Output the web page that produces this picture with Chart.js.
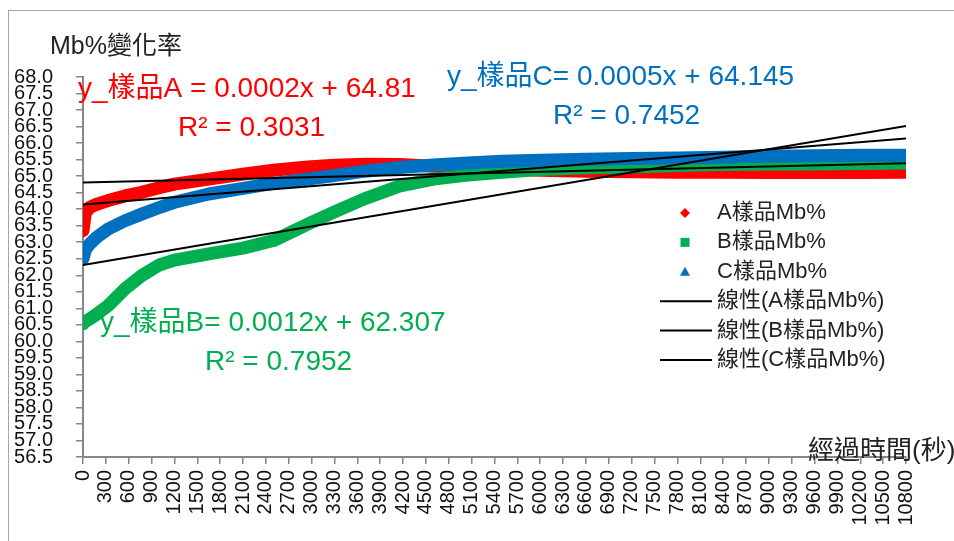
<!DOCTYPE html>
<html>
<head>
<meta charset="utf-8">
<script src="https://cdn.jsdelivr.net/npm/chart.js@4.4.0/dist/chart.umd.min.js"></script>
<style>
  body { margin: 0; background: #fff; }
</style>
</head>
<body>
<canvas id="mbChart" width="954" height="541"></canvas>
<script>
// elapsed seconds and Mb% readings
const seconds = [0, 30, 90, 180, 330, 550, 770, 1000, 1200, 1650, 2100, 2500, 2950, 3300, 3700, 4150, 4600, 5050, 5500, 6000, 6600, 7200, 7800, 8400, 9000, 9600, 10200, 10800];
const sampleA = [63.35, 63.88, 64.06, 64.15, 64.26, 64.40, 64.51, 64.65, 64.76, 64.91, 65.06, 65.18, 65.28, 65.33, 65.36, 65.35, 65.30, 65.25, 65.22, 65.18, 65.15, 65.13, 65.12, 65.12, 65.11, 65.11, 65.11, 65.12];
const sampleB = [60.53, 60.60, 60.68, 60.82, 61.08, 61.59, 61.99, 62.31, 62.46, 62.65, 62.82, 63.05, 63.55, 63.92, 64.32, 64.70, 64.91, 65.03, 65.12, 65.20, 65.25, 65.28, 65.32, 65.35, 65.36, 65.37, 65.38, 65.40];
const sampleC = [62.50, 62.77, 62.95, 63.15, 63.40, 63.65, 63.85, 64.05, 64.21, 64.46, 64.63, 64.78, 64.91, 65.02, 65.15, 65.26, 65.34, 65.40, 65.45, 65.48, 65.51, 65.53, 65.55, 65.57, 65.60, 65.62, 65.63, 65.63];

// linear trend lines, start and end
const trendX = [0, 10800];
const trendA = [64.81, 65.39];
const trendB = [62.307, 66.52];
const trendC = [64.145, 66.14];

const seriesLabels = ['A樣品Mb%', 'B樣品Mb%', 'C樣品Mb%', '線性(A樣品Mb%)', '線性(B樣品Mb%)', '線性(C樣品Mb%)'];
const eqA = ['y_樣品A = 0.0002x + 64.81', 'R² = 0.3031'];
const eqB = ['y_樣品B= 0.0012x + 62.307', 'R² = 0.7952'];
const eqC = ['y_樣品C= 0.0005x + 64.145', 'R² = 0.7452'];

const RED = '#ff0000', GREEN = '#00b050', BLUE = '#0070c0';
const FONT = "'Liberation Sans', 'Noto Sans CJK TC', sans-serif";
const AXIS = '#868686';

const toPts = (xs, ys) => xs.map((x, i) => ({ x: x, y: ys[i] }));

function bandSet(label, vals, color, order, style) {
    return {
        label: label,
        data: toPts(seconds, vals),
        showLine: true,
        borderColor: color,
        backgroundColor: color,
        borderWidth: 13,
        borderCapStyle: 'round',
        borderJoinStyle: 'round',
        pointRadius: 0,
        pointStyle: style,
        order: order
    };
}
function trendSet(label, vals) {
    return {
        label: label,
        data: toPts(trendX, vals),
        showLine: true,
        borderColor: '#000',
        borderWidth: 2,
        pointRadius: 0,
        order: 0
    };
}

const extras = {
    id: 'extras',
    beforeDraw(chart) {
        const ctx = chart.ctx;
        ctx.save();
        ctx.strokeStyle = '#a6a6a6';
        ctx.lineWidth = 1;
        ctx.strokeRect(8.5, 10.5, 1000, 1000);
        ctx.restore();
    },
    afterDraw(chart) {
        const ctx = chart.ctx;
        ctx.save();
        ctx.textBaseline = 'middle';
        ctx.textAlign = 'left';

        // axis titles
        ctx.fillStyle = '#222';
        ctx.font = '25px ' + FONT;
        ctx.fillText('Mb%變化率', 50, 47);
        ctx.font = '26px ' + FONT;
        ctx.fillText('經過時間(秒)', 808, 452);

        // trend equations
        ctx.font = '28px ' + FONT;
        ctx.fillStyle = RED;
        ctx.fillText(eqA[0], 78, 89);
        ctx.fillText(eqA[1], 178, 128);
        ctx.fillStyle = BLUE;
        ctx.fillText(eqC[0], 447, 77);
        ctx.fillText(eqC[1], 553, 116);
        ctx.fillStyle = GREEN;
        ctx.fillText(eqB[0], 100, 323);
        ctx.fillText(eqB[1], 205, 362);

        // legend
        ctx.font = '22px ' + FONT;
        chart.data.datasets.forEach((ds, i) => {
            const y = 213 + i * 29.4;
            if (ds.pointStyle) {
                ctx.fillStyle = ds.borderColor;
                ctx.beginPath();
                if (ds.pointStyle === 'rectRot') {
                    ctx.moveTo(685, y - 5); ctx.lineTo(690, y); ctx.lineTo(685, y + 5); ctx.lineTo(680, y);
                } else if (ds.pointStyle === 'rect') {
                    ctx.rect(680.5, y - 4.5, 9, 9);
                } else {
                    ctx.moveTo(685, y - 5); ctx.lineTo(690, y + 4); ctx.lineTo(680, y + 4);
                }
                ctx.closePath();
                ctx.fill();
            } else {
                ctx.strokeStyle = '#000';
                ctx.lineWidth = 2;
                ctx.beginPath();
                ctx.moveTo(660, y); ctx.lineTo(712, y);
                ctx.stroke();
            }
            ctx.fillStyle = '#222';
            ctx.fillText(ds.label, 717, y);
        });
        ctx.restore();
    }
};

new Chart(document.getElementById('mbChart'), {
    type: 'scatter',
    data: {
        datasets: [
            bandSet(seriesLabels[0], sampleA, RED, 3, 'rectRot'),
            bandSet(seriesLabels[1], sampleB, GREEN, 2, 'rect'),
            bandSet(seriesLabels[2], sampleC, BLUE, 1, 'triangle'),
            trendSet(seriesLabels[3], trendA),
            trendSet(seriesLabels[4], trendB),
            trendSet(seriesLabels[5], trendC)
        ]
    },
    options: {
        responsive: false,
        animation: false,
        layout: { padding: { left: 8, right: 48, top: 77, bottom: 0 } },
        plugins: { legend: { display: false }, tooltip: { enabled: false } },
        scales: {
            x: {
                type: 'linear',
                min: 0,
                max: 10800,
                grid: { drawOnChartArea: false, drawTicks: true, tickLength: 7, color: AXIS, lineWidth: 1.5 },
                border: { color: AXIS, width: 2 },
                ticks: {
                    stepSize: 300,
                    maxTicksLimit: 100,
                    autoSkip: false,
                    minRotation: 90,
                    maxRotation: 90,
                    padding: 6,
                    color: '#111',
                    font: { family: FONT, size: 20, lineHeight: 1 },
                    callback: v => String(v)
                },
                afterFit(s) { s.height = 84; s.paddingLeft = 0; s.paddingRight = 0; }
            },
            y: {
                min: 56.5,
                max: 68,
                grid: { drawOnChartArea: false, drawTicks: true, tickLength: 7, color: AXIS, lineWidth: 1.5 },
                border: { color: AXIS, width: 2 },
                ticks: {
                    stepSize: 0.5,
                    maxTicksLimit: 100,
                    autoSkip: false,
                    padding: 23,
                    color: '#111',
                    font: { family: FONT, size: 20, lineHeight: 0.8 },
                    callback: v => Number(v).toFixed(1)
                },
                afterFit(s) { s.width = 75; s.paddingTop = 0; s.paddingBottom = 0; }
            }
        }
    },
    plugins: [extras]
});
</script>
</body>
</html>
